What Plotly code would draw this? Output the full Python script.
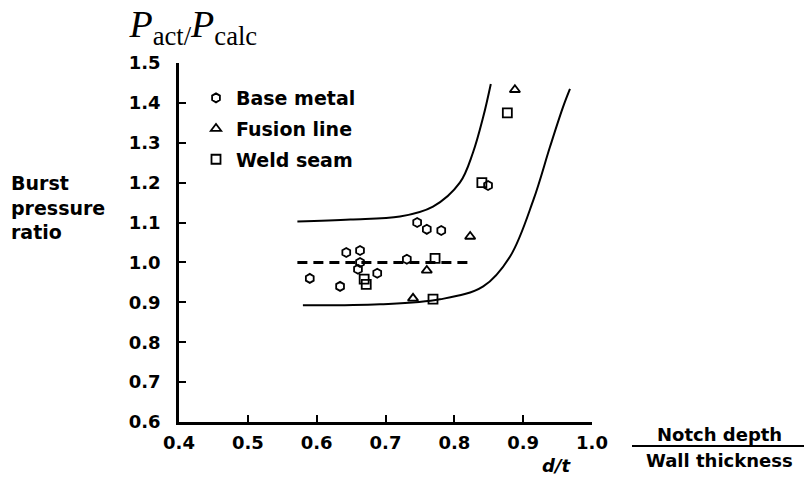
import plotly.graph_objects as go

# ---- data ----
base_x = [0.590, 0.634, 0.643, 0.663, 0.663, 0.660, 0.688, 0.746, 0.760, 0.781, 0.731, 0.849]
base_y = [0.960, 0.940, 1.025, 1.030, 1.000, 0.983, 0.973, 1.100, 1.083, 1.080, 1.008, 1.193]

fusion_x = [0.760, 0.823, 0.740, 0.888]
fusion_y = [0.980, 1.065, 0.910, 1.433]

weld_x = [0.669, 0.672, 0.772, 0.769, 0.840, 0.877]
weld_y = [0.958, 0.945, 1.010, 0.908, 1.200, 1.375]

upper_x = [0.572, 0.649, 0.721, 0.769, 0.808, 0.827, 0.842, 0.853]
upper_y = [1.1025, 1.1075, 1.115, 1.140, 1.200, 1.275, 1.365, 1.4475]

lower_x = [0.580, 0.692, 0.779, 0.842, 0.881, 0.915, 0.939, 0.958, 0.968]
lower_y = [0.8925, 0.895, 0.9075, 0.940, 1.015, 1.1575, 1.290, 1.390, 1.435]

mean_x = [0.572, 0.826]
mean_y = [1.0, 1.0]

x_ticks = [0.4, 0.5, 0.6, 0.7, 0.8, 0.9, 1.0]
y_ticks = [0.6, 0.7, 0.8, 0.9, 1.0, 1.1, 1.2, 1.3, 1.4, 1.5]

FONT = "DejaVu Sans"

fig = go.Figure()

fig.add_trace(go.Scatter(x=upper_x, y=upper_y, mode="lines", line=dict(color="black", width=2, shape="spline"),
                         showlegend=False, hoverinfo="skip"))
fig.add_trace(go.Scatter(x=lower_x, y=lower_y, mode="lines", line=dict(color="black", width=2, shape="spline"),
                         showlegend=False, hoverinfo="skip"))
fig.add_trace(go.Scatter(x=mean_x, y=mean_y, mode="lines", line=dict(color="black", width=3, dash="10px,6px"),
                         showlegend=False, hoverinfo="skip"))

mk_line = dict(color="black", width=1.8)
fig.add_trace(go.Scatter(x=base_x, y=base_y, mode="markers", name="Base metal", legendgroup="a",
                         marker=dict(symbol="hexagon-open", size=9, color="black", line=mk_line)))
fig.add_trace(go.Scatter(x=fusion_x, y=fusion_y, mode="markers", name="Fusion line", legendgroup="b",
                         marker=dict(symbol="triangle-up-open", size=9, color="black", line=mk_line)))
fig.add_trace(go.Scatter(x=weld_x, y=weld_y, mode="markers", name="Weld seam", legendgroup="c",
                         marker=dict(symbol="square-open", size=9, color="black", line=mk_line)))

axis_common = dict(showgrid=False, zeroline=False, showline=True, linecolor="black", linewidth=2.5,
                   ticks="inside", ticklen=7, tickwidth=2, tickcolor="black",
                   tickfont=dict(family=FONT, size=18, color="black", weight="bold"))

fig.update_xaxes(range=[0.4, 1.0], tickvals=x_ticks, ticktext=[f"{v:.1f}" for v in x_ticks],
                 ticklabelstandoff=3, **axis_common)
fig.update_yaxes(range=[0.6, 1.5], tickvals=y_ticks, ticktext=[f"{v:.1f}" for v in y_ticks],
                 ticklabelstandoff=12, **axis_common)

# plot area occupies screen px x 179..592, y 63..422 (page has an 8px body margin)
def px_x(px):
    return (px - 179) / 413

def px_y(py):
    return (422 - py) / 359

annotations = [
    dict(x=px_x(193), y=px_y(27), text=" <i>P</i><sub>act/</sub><i>P</i><sub>calc</sub> ",
         font=dict(family="Liberation Serif", size=38, color="black"), xanchor="center", yanchor="middle"),
    dict(x=px_x(9), y=px_y(207), text="<b>Burst<br>pressure<br>ratio</b>", align="left",
         font=dict(family=FONT, size=19, color="black"), xanchor="left", yanchor="middle"),
    dict(x=px_x(556), y=px_y(465), text="<b><i>d/t</i></b>",
         font=dict(family=FONT, size=18, color="black"), xanchor="center", yanchor="middle"),
    dict(x=px_x(719), y=px_y(435), text="<b>Notch depth</b>",
         font=dict(family=FONT, size=18, color="black"), xanchor="center", yanchor="middle"),
    dict(x=px_x(719), y=px_y(461), text="<b>Wall thickness</b>",
         font=dict(family=FONT, size=18, color="black"), xanchor="center", yanchor="middle"),
]
for a in annotations:
    a.update(xref="paper", yref="paper", showarrow=False)

fig.update_layout(
    width=812, height=484,
    margin=dict(l=171, r=228, t=55, b=70),
    paper_bgcolor="white", plot_bgcolor="white",
    annotations=annotations,
    shapes=[dict(type="line", xref="paper", yref="paper", x0=px_x(632), x1=px_x(808),
                 y0=px_y(446), y1=px_y(446), line=dict(color="black", width=2))],
    legend=dict(x=px_x(196), y=px_y(79), xanchor="left", yanchor="top", bgcolor="rgba(0,0,0,0)",
                font=dict(family=FONT, size=19, color="black", weight="bold"),
                itemwidth=30, tracegroupgap=3),
)

fig.write_html("out.html")
